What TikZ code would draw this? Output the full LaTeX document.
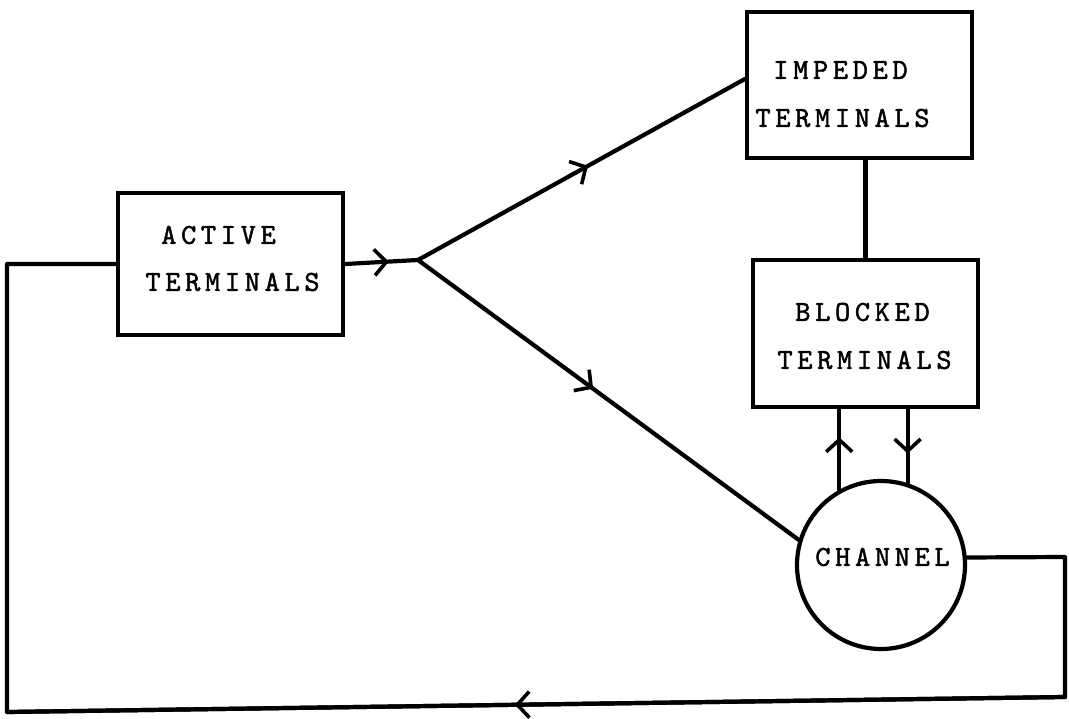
\documentclass[tikz,border=0pt]{standalone}
\usepackage{fontspec}
\usetikzlibrary{arrows.meta,decorations.markings}
\newfontfamily\twfont{lmmono10-regular.otf}[LetterSpace=16,FakeBold=1.5]
\newcommand\lbfont{\twfont\fontsize{29}{34}\selectfont}
\begin{document}
\begin{tikzpicture}[x=1pt,y=-1pt,
  wire/.style={line width=4.2pt, line join=round, line cap=round},
  box/.style={draw, line width=4.2pt, rectangle, minimum width=225pt, inner sep=0pt},
  lbl/.style={font=\lbfont, inner sep=0pt, anchor=center},
  midarrow/.style={postaction={decorate}, decoration={markings,
    mark=at position #1 with {\arrow{Straight Barb[length=12pt,width=26pt,line width=3.6pt]}}}}
]
\useasboundingbox (0,0) rectangle (1069,719);

% boxes
\node[box, minimum height=142pt] (active) at (230.5,264) {};
\node[box, minimum height=146pt] (impeded) at (859.5,85) {};
\node[box, minimum height=147pt] (blocked) at (865.5,333.5) {};
\node[draw, circle, line width=4.2pt, minimum size=168pt, inner sep=0pt] (channel) at (881,565) {};

% labels
\node[lbl] (t1) at (218.5,235) {ACTIVE};
\node[lbl] (t2) at (232.5,282) {TERMINALS};
\node[lbl] (t3) at (840.5,70) {IMPEDED};
\node[lbl] (t4) at (842.5,118) {TERMINALS};
\node[lbl] (t5) at (862.5,312) {BLOCKED};
\node[lbl] (t6) at (864.5,360) {TERMINALS};
\node[lbl] (t7) at (882.5,557) {CHANNEL};

% helper coordinates
\coordinate (J) at (418,260);
\coordinate (r1) at (1065,557);
\coordinate (r2) at (1065,697);
\coordinate (l1) at (7,712);
\coordinate (l2) at (7,264);

% connectors
\draw[wire, midarrow=0.6] (active.east) -- (J);
\draw[wire, midarrow=0.52] (J) -- (impeded.177.5);
\draw[wire, midarrow=0.46] (J) -- (channel.163);
\draw[wire] (blocked.north |- impeded.south) -- (blocked.north);
\draw[wire, midarrow=0.65] (channel.119) -- (channel.119 |- blocked.south);
\draw[wire, midarrow=0.6] (blocked.south -| channel.72) -- (channel.72);
\draw[wire] (channel.5) -- (r1) -- (r2) -- (l1) -- (l2) -- (active.west);
\draw[wire, midarrow=0.52] (r2) -- (l1);
\end{tikzpicture}
\end{document}
